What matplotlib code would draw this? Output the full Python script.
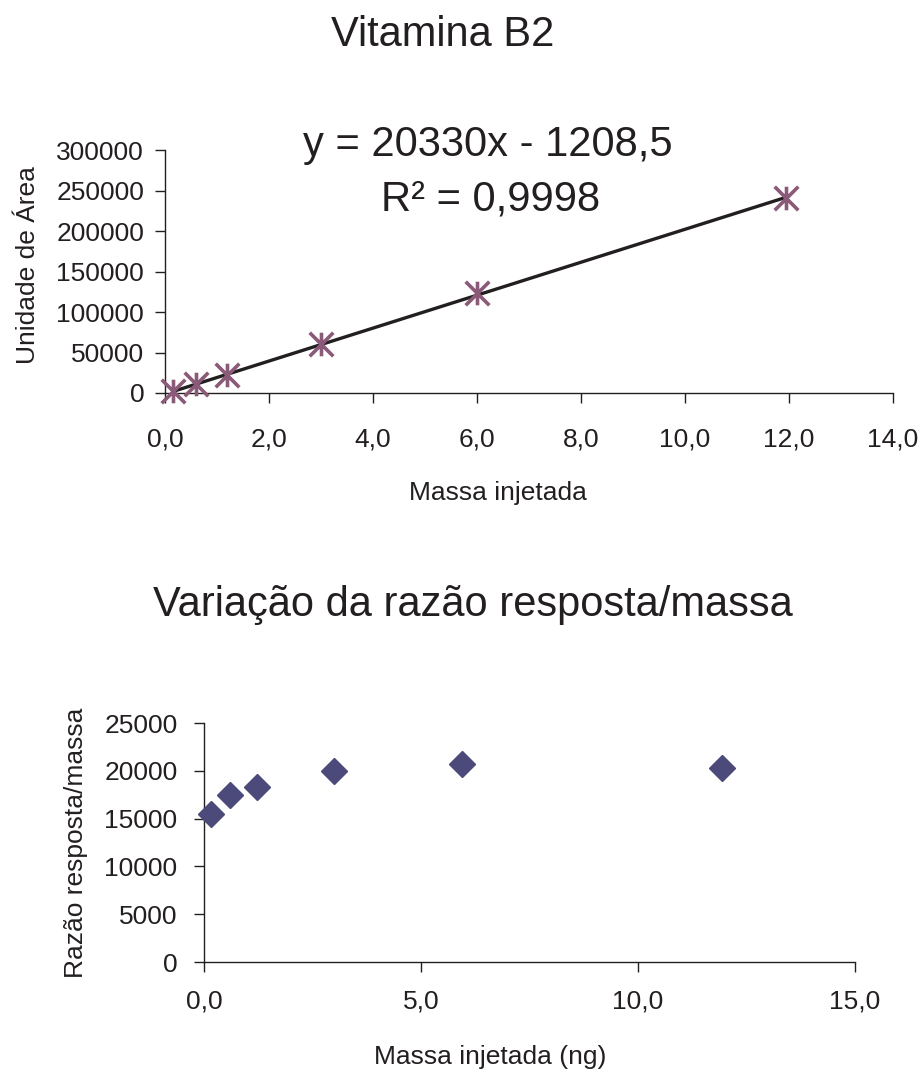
import numpy as np
import matplotlib
matplotlib.use("Agg")
import matplotlib.pyplot as plt
from matplotlib.path import Path
from matplotlib.ticker import FuncFormatter

plt.rcParams['font.family'] = ['Liberation Sans', 'DejaVu Sans']

# data
massa = [0.15, 0.6, 1.2, 3.0, 6.0, 11.95]
area = [2300, 10500, 22500, 60000, 123000, 241000]
massa_razao = [0.16, 0.6, 1.22, 3.0, 5.94, 11.94]
razao = [15500, 17500, 18300, 20000, 20700, 20300]
slope, intercept = 20330, -1208.5
r2_text = "0,9998"

txt = '#231F20'
star_color = '#8B5A78'
diamond_color = '#4B4A7A'

# Excel-like star marker: X with vertical bar
star = Path([(0, -1), (0, 1), (-1, -1), (1, 1), (-1, 1), (1, -1)],
            [Path.MOVETO, Path.LINETO, Path.MOVETO, Path.LINETO, Path.MOVETO, Path.LINETO])

comma1 = FuncFormatter(lambda v, p: f"{v:.1f}".replace('.', ','))
plain = FuncFormatter(lambda v, p: f"{v:.0f}")

fig = plt.figure(figsize=(9.24, 10.76), dpi=100)

def style_axes(ax, xpad, ypad):
    for s in ['top', 'right']:
        ax.spines[s].set_visible(False)
    for s in ['left', 'bottom']:
        ax.spines[s].set_color(txt)
        ax.spines[s].set_linewidth(1.0)
    ax.tick_params(axis='both', direction='out', length=7, width=1.0, color=txt,
                   labelsize=19, labelcolor=txt)
    ax.tick_params(axis='x', pad=xpad)
    ax.tick_params(axis='y', pad=ypad)

# --- top chart: calibration curve ---
ax1 = fig.add_axes([165 / 924, 1 - 393 / 1076, (893 - 165) / 924, (393 - 150) / 1076])
style_axes(ax1, 18, 8)
xs = np.array([min(massa), max(massa)])
ax1.plot(xs, slope * xs + intercept, color=txt, lw=2.4, zorder=2)
ax1.plot(massa, area, linestyle='none', marker=star, markersize=17,
         markeredgewidth=2.6, color=star_color, clip_on=False, zorder=3)
ax1.set_xlim(0, 14)
ax1.set_ylim(0, 300000)
ax1.set_xticks(np.arange(0, 15, 2))
ax1.set_yticks(np.arange(0, 300001, 50000))
ax1.xaxis.set_major_formatter(comma1)
ax1.yaxis.set_major_formatter(plain)

fig.text(443 / 924, 1 - 35 / 1076, "Vitamina B2", ha='center', va='center',
         fontsize=30, color=txt)
fig.text(488 / 924, 1 - 145 / 1076, "y = 20330x - 1208,5", ha='center', va='center',
         fontsize=30, color=txt)
fig.text(491 / 924, 1 - 200 / 1076, "R² = " + r2_text, ha='center', va='center',
         fontsize=30, color=txt)
fig.text(28 / 924, 1 - 265 / 1076, "Unidade de Área", rotation=90, ha='center',
         va='center', fontsize=19, color=txt)
fig.text(498 / 924, 1 - 493 / 1076, "Massa injetada", ha='center', va='center',
         fontsize=19, color=txt)

# --- bottom chart: response/mass ratio ---
ax2 = fig.add_axes([204 / 924, 1 - 962 / 1076, (855 - 204) / 924, (962 - 723) / 1076])
style_axes(ax2, 13, 12)
ax2.plot(massa_razao, razao, linestyle='none', marker='D', markersize=13.5,
         color=diamond_color, clip_on=False, zorder=3)
ax2.set_xlim(0, 15)
ax2.set_ylim(0, 25000)
ax2.set_xticks([0, 5, 10, 15])
ax2.set_yticks(np.arange(0, 25001, 5000))
ax2.xaxis.set_major_formatter(comma1)
ax2.yaxis.set_major_formatter(plain)

fig.text(473 / 924, 1 - 605 / 1076, "Variação da razão resposta/massa", ha='center',
         va='center', fontsize=30, color=txt)
fig.text(76 / 924, 1 - 843 / 1076, "Razão resposta/massa", rotation=90, ha='center',
         va='center', fontsize=19, color=txt)
fig.text(490 / 924, 1 - 1057 / 1076, "Massa injetada (ng)", ha='center', va='center',
         fontsize=19, color=txt)

fig.savefig("out.png", dpi=100)
